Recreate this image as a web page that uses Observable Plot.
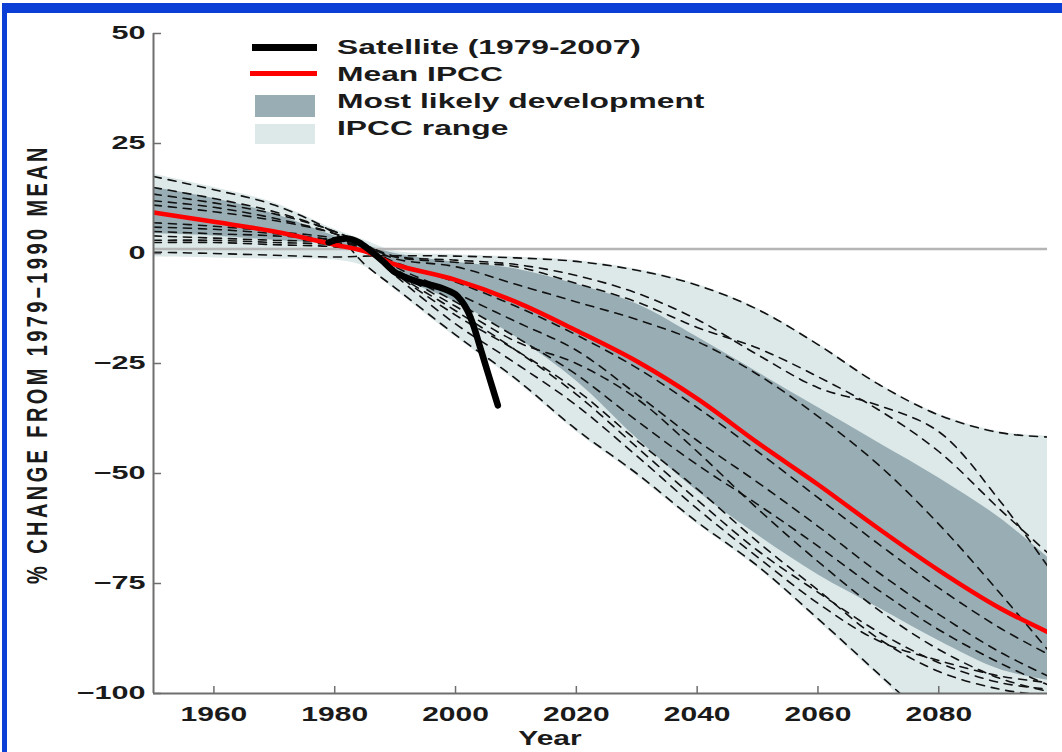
<!DOCTYPE html>
<html>
<head>
<meta charset="utf-8">
<script src="https://cdn.jsdelivr.net/npm/d3@7"></script>
<script src="https://cdn.jsdelivr.net/npm/@observablehq/plot@0.6"></script>
<style>
  html, body { margin: 0; padding: 0; background: #fff; }
  #wrap { position: relative; width: 1062px; height: 752px; overflow: hidden; font-family: "Liberation Sans", Arial, sans-serif; font-weight: bold; color: #1a1a1a; }
  #border { position: absolute; left: 2px; top: 3px; width: 1080px; height: 780px; border-left: 5px solid #0b3fd6; border-top: 10px solid #0b3fd6; box-sizing: border-box; }
  #chart { position: absolute; left: 0; top: 0; }
  .sw { position: absolute; }
  .lt { position: absolute; left: 337px; font-size: 19.5px; line-height: 19.5px; white-space: nowrap; transform: scaleX(1.63); transform-origin: 0 0; }
  #ylab { position: absolute; left: 37px; top: 364px; font-size: 20px; line-height: 20px; letter-spacing: 3.4px; white-space: nowrap; transform: translate(-50%, -50%) rotate(-90deg) scaleY(1.45); }
  #xlab { position: absolute; left: 550px; top: 728px; font-size: 20px; line-height: 20px; white-space: nowrap; transform: translate(-50%, 0) scaleX(1.5); }
</style>
</head>
<body>
<div id="wrap">
  <div id="border"></div>
  <div id="chart"></div>
  <div class="sw" style="left:252px;top:44px;width:65px;height:6.5px;background:#000;"></div>
  <div class="lt" style="top:37.5px;">Satellite (1979-2007)</div>
  <div class="sw" style="left:250px;top:71px;width:67px;height:4.5px;background:#f00;"></div>
  <div class="lt" style="top:64.5px;">Mean IPCC</div>
  <div class="sw" style="left:255px;top:95px;width:60px;height:22px;background:#98aeb4;"></div>
  <div class="lt" style="top:91.5px;">Most likely development</div>
  <div class="sw" style="left:255px;top:124px;width:60px;height:20px;background:#dde8e9;"></div>
  <div class="lt" style="top:118.5px;">IPCC range</div>
  <div id="ylab">% CHANGE FROM 1979–1990 MEAN</div>
  <div id="xlab">Year</div>
</div>
<script>
// ---- data ----
const years = [1950, 1960, 1970, 1980, 1985, 1990, 2000, 2010, 2020, 2030, 2040, 2050, 2060, 2070, 2080, 2090, 2098];

const ipccRangeHigh = [18, 15, 11.5, 5.5, 3, 0.5, -0.3, -0.8, -1.6, -3.6, -7, -12.5, -20.5, -29.5, -36.5, -40.5, -41.5];
const ipccRangeLow  = [-0.8, -1, -1.3, -1.5, -3, -8.3, -19, -29, -40.5, -50.5, -61.5, -71.5, -83.5, -96, -108, -108, -108];

const likelyHigh = [15, 12.5, 9, 4, 2, 0, -2, -3.5, -7, -11.5, -19, -27, -35, -43, -51, -60, -69];
const likelyLow  = [4.5, 4, 3, 2, 0.5, -5, -11, -19, -29, -42, -54, -64, -73, -80.5, -88, -94.5, -97];

const meanIPCC = [9.3, 7.2, 5, 2, 0.5, -2.5, -6, -11, -17.5, -24.5, -33, -43, -52.5, -62.5, -72, -80.5, -86];

const runA = [0.3, 0, -0.4, -0.8, -0.6, -0.5, -0.6, -1, -1.8, -3.8, -7.2, -12.7, -20.7, -29.7, -36.7, -40.7, -41.7];
const runB = [17.5, 14.5, 11, 4.5, -2.5, -7.8, -18.5, -28.5, -40, -50, -61, -71, -83, -95.5, -108, null, null];
const runC = [6, 5.5, 4.5, 3, 1.5, -0.8, -2, -3, -6.8, -11, -16.8, -21.5, -28, -35.5, -45, -58, -68];
const runD = [7, 6.2, 5, 3.5, 1.8, -0.6, -1.5, -2.5, -5, -9, -15, -23, -30.5, -34.5, -40.5, -56, -71];
const runE = [15, 12.5, 9.5, 5, 2, -1.2, -3, -7, -11, -15, -20, -27.5, -37, -48, -61.5, -77, -90];
const runF = [11, 9.5, 7.5, 4.5, 1.5, -3, -9, -15.5, -22, -32, -42.5, -52, -62, -72.5, -82, -90.5, -96];
const runG = [5, 4.5, 4, 3, 1, -3.5, -11, -19, -27.5, -38, -48, -57, -66.5, -76.5, -85.5, -93, -98];
const runH = [13.5, 11.5, 9, 5, 1.5, -4.5, -14, -22, -31, -42.5, -53.5, -65.5, -76.5, -87.5, -95, -99, -100.5];
const runI = [4, 3.5, 3, 2.5, 1, -5, -16, -25, -34.5, -46, -58, -69, -79.5, -88, -92.5, -96, -97.5];
const runJ = [2.5, 2.5, 2, 1.5, 0.5, -4, -12, -20, -25, -33, -45, -58, -70, -81, -90, -96.5, -99.5];
const runK = [12, 10.5, 8, 4.5, 1.5, -2, -6.5, -12, -18.5, -26, -35, -45, -55.5, -66, -76, -85, -91];
const runL = [3, 3, 2.5, 2, 0.8, -4.5, -13, -22, -32, -44, -56, -67.5, -77, -86, -93, -97.5, -99];
const modelRuns = [runA, runB, runC, runD, runE, runF, runG, runH, runI, runJ, runK, runL];

const satelliteYears  = [1979, 1980, 1982, 1984, 1986, 1988, 1990, 1992, 1994, 1996, 1998, 2000, 2001, 2002, 2003, 2004, 2005, 2006, 2007];
const satelliteValues = [2.5, 3, 3.4, 2.5, 0.5, -1.8, -4.3, -5.6, -6.5, -7.2, -8, -9.3, -10.8, -13, -16.5, -21, -25.5, -30, -34.5];

const xDomain = [1950, 2098];
const yDomain = [-100, 50];
const xTicks = [1960, 1980, 2000, 2020, 2040, 2060, 2080];
const yTicks = [50, 25, 0, -25, -50, -75, -100];
const referenceLine = [1];

// ---- tables ----
const bands = years.map((yr, i) => ({year: yr, rLo: ipccRangeLow[i], rHi: ipccRangeHigh[i], lLo: likelyLow[i], lHi: likelyHigh[i], mean: meanIPCC[i]}));
const runs = modelRuns.flatMap((run, k) => years.map((yr, i) => ({run: k, year: yr, v: run[i]})));
const sat = satelliteYears.map((yr, i) => ({year: yr, v: satelliteValues[i]}));

const W = 1062, H = 752, mL = 153, mR = 15, mT = 33, mB = 59;
const frameW = W - mL - mR, frameH = H - mT - mB;
const curve = "catmull-rom";

const svg = Plot.plot({
  width: W, height: H,
  marginLeft: mL, marginRight: mR, marginTop: mT, marginBottom: mB,
  style: {background: "transparent", color: "#1a1a1a", fontFamily: "'Liberation Sans', Arial, sans-serif", fontWeight: "bold", fontSize: "18px"},
  x: {domain: xDomain, ticks: xTicks, tickFormat: d => String(d), tickSize: 0, tickPadding: 13, label: null},
  y: {domain: yDomain, ticks: yTicks, tickFormat: d => (d < 0 ? "\u2212" + Math.abs(d) : String(d)), tickSize: 0, tickPadding: 8, label: null},
  marks: [
    Plot.areaY(bands, {x: "year", y1: "rLo", y2: "rHi", fill: "#dde8e9", curve, clip: true}),
    Plot.areaY(bands, {x: "year", y1: "lLo", y2: "lHi", fill: "#98aeb4", curve, clip: true}),
    Plot.ruleY(referenceLine, {stroke: "#b5b5b5", strokeWidth: 2.5}),
    Plot.line(runs, {x: "year", y: "v", z: "run", stroke: "#111", strokeWidth: 1.6, strokeDasharray: "8,7", curve, clip: true}),
    Plot.line(bands, {x: "year", y: "mean", stroke: "#ff0000", strokeWidth: 4.5, curve, clip: true}),
    Plot.line(sat, {x: "year", y: "v", stroke: "#000", strokeWidth: 6.5, curve}),
    Plot.ruleX([xDomain[0]], {stroke: "#6e6e6e", strokeWidth: 2}),
    Plot.ruleY([yDomain[0]], {stroke: "#6e6e6e", strokeWidth: 2}),
    Plot.tickX(xTicks, {x: d => d, stroke: "#6e6e6e", strokeWidth: 1.5, insetTop: frameH - 7}),
    Plot.tickY(yTicks, {y: d => d, stroke: "#6e6e6e", strokeWidth: 1.5, insetRight: frameW - 8})
  ]
});
document.getElementById("chart").append(svg);

// stretch tick labels horizontally like the reference
svg.querySelectorAll("text").forEach(t => {
  const r = t.getBoundingClientRect();
  const cx = r.left + r.width / 2, cy = r.top + r.height / 2;
  let s, fs;
  if (cy > H - mB + 3) { s = 1.5; fs = 20; }
  else if (cx < mL) { s = 1.7; fs = 18; }
  else return;
  t.style.fontSize = fs + "px";
  const x = +(t.getAttribute("x") || 0) || 0;
  const tr = t.getAttribute("transform") || "";
  t.setAttribute("transform", `${tr} translate(${x},0) scale(${s},1) translate(${-x},0)`);
});
</script>
</body>
</html>
